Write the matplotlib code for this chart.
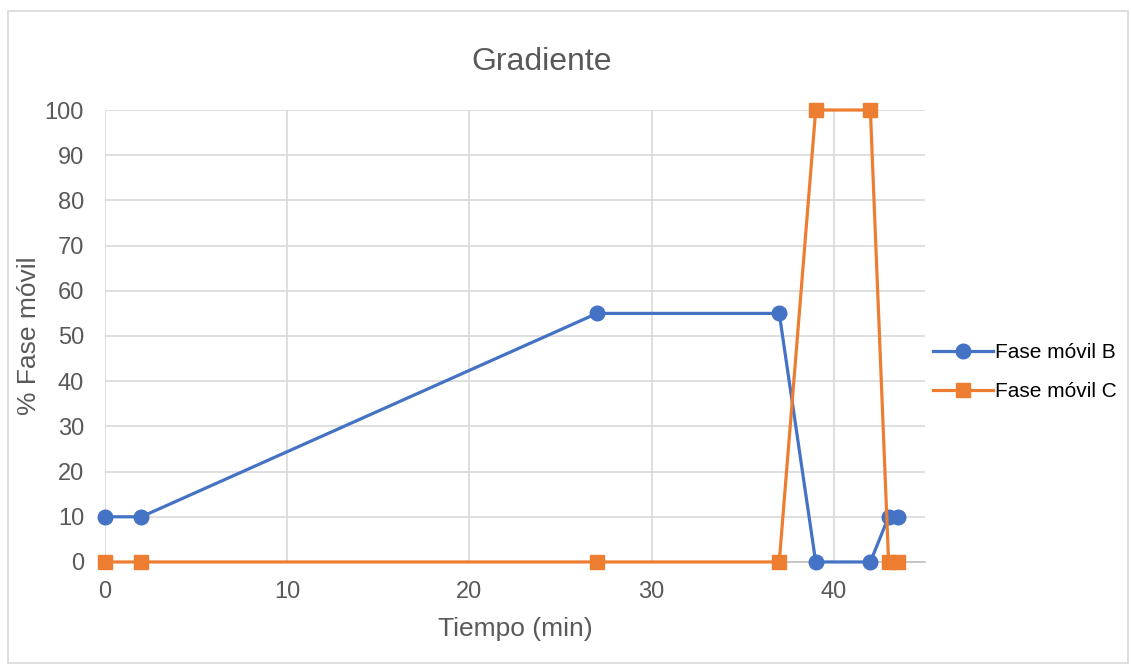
import matplotlib
matplotlib.use("Agg")
import matplotlib.pyplot as plt
from matplotlib.patches import Rectangle

tiempo = [0, 2, 27, 37, 39, 42, 43, 43.5]
fase_b = [10, 10, 55, 55, 0, 0, 10, 10]
fase_c = [0, 0, 0, 0, 100, 100, 0, 0]

xticks = [0, 10, 20, 30, 40]
yticks = list(range(0, 101, 10))

plt.rcParams['font.family'] = ['Liberation Sans', 'DejaVu Sans']
txt = '#595959'
grid_c = '#d9d9d9'

fig = plt.figure(figsize=(11.31, 6.66), dpi=100)
ax = fig.add_axes([0.0928, 0.1562, 0.7251, 0.6786])

ax.plot(tiempo, fase_b, '-o', color='#4472C4', lw=2.3, ms=10.5, label='Fase móvil B',
        zorder=3, clip_on=False)
ax.plot(tiempo, fase_c, '-s', color='#ED7D31', lw=2.3, ms=10, label='Fase móvil C',
        zorder=3, clip_on=False)

ax.set_xlim(0, 45)
ax.set_ylim(0, 100)
ax.set_xticks(xticks)
ax.set_yticks(yticks)
ax.grid(True, color=grid_c, lw=1.2)
ax.set_axisbelow(True)
for s in ['top', 'right', 'left']:
    ax.spines[s].set_visible(False)
ax.spines['bottom'].set_color('#bfbfbf')
ax.spines['bottom'].set_linewidth(1.2)
ax.tick_params(length=0, labelsize=17, colors=txt)
ax.tick_params(axis='x', pad=14)
ax.tick_params(axis='y', pad=15)

ax.set_xlabel('Tiempo (min)', fontsize=19, color=txt, labelpad=10)
ax.set_ylabel('% Fase móvil', fontsize=19, color=txt, labelpad=3)
fig.text(0.479, 0.907, 'Gradiente', fontsize=23, color=txt, ha='center', va='center')

leg = fig.legend(loc='center left', bbox_to_anchor=(0.808, 0.441), frameon=False,
                 fontsize=15, handlelength=2.9, labelspacing=0.95, handletextpad=0.1,
                 labelcolor='black')

fig.patches.append(Rectangle((0.007, 0.005), 0.99, 0.978, transform=fig.transFigure,
                             fill=False, edgecolor='#d9d9d9', lw=1.2))

plt.savefig('out.png', dpi=100)
